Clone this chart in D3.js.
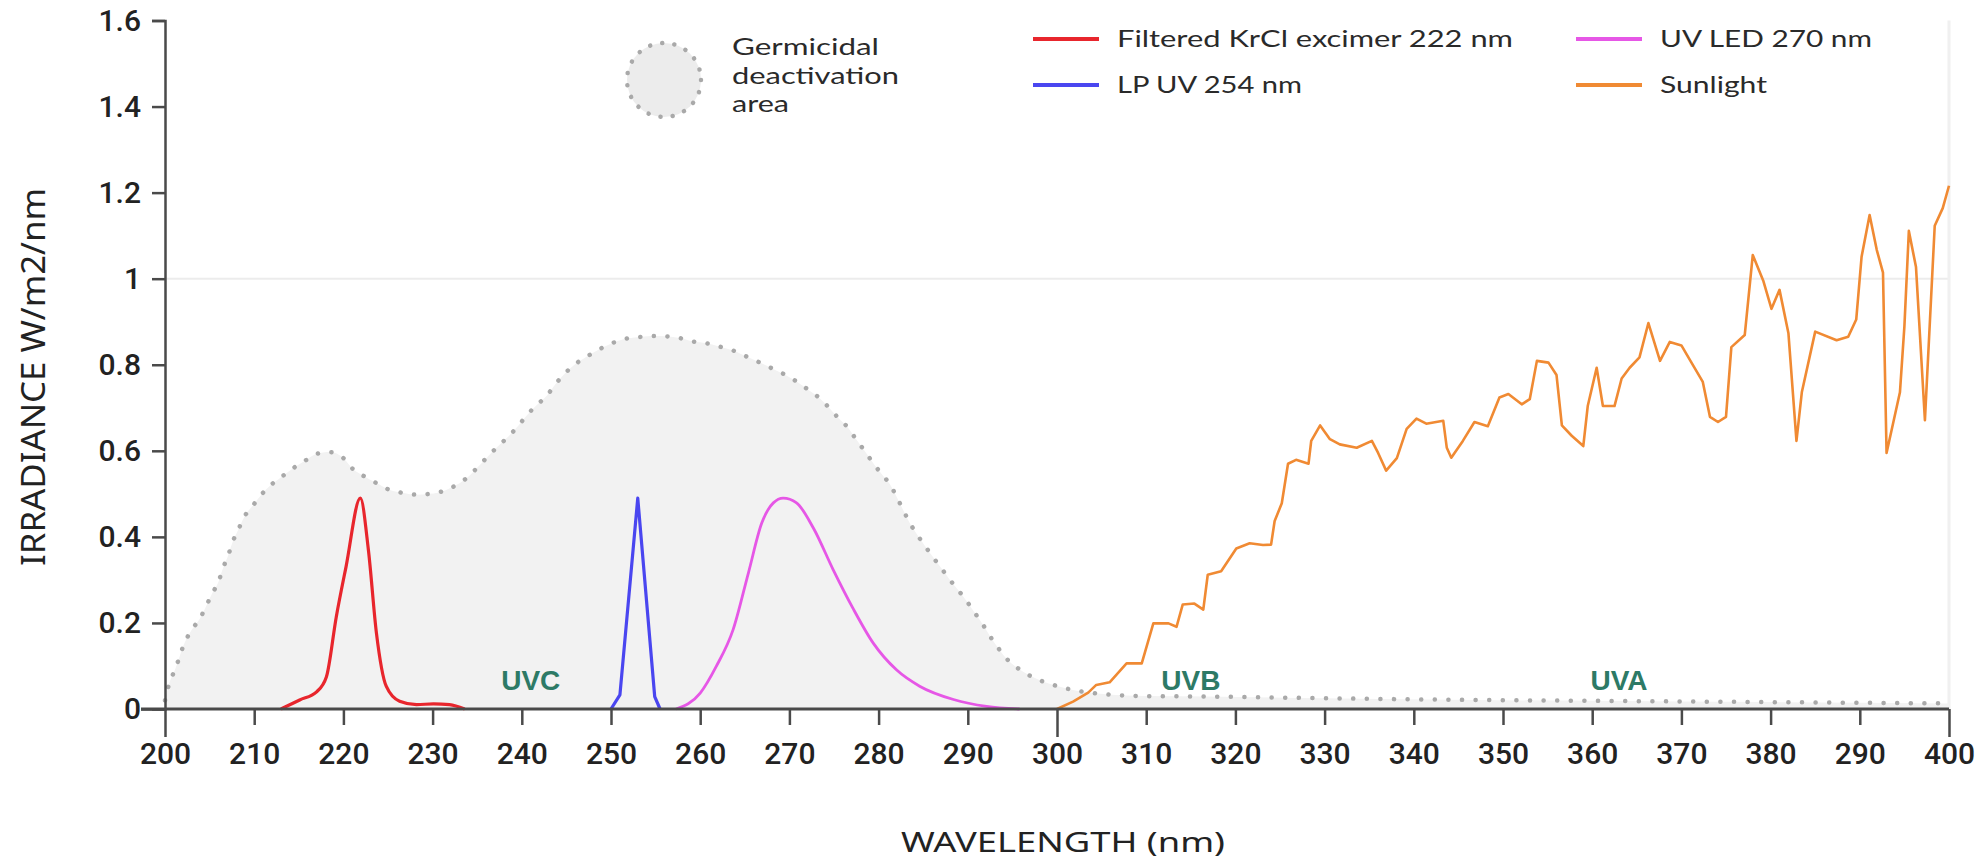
<!DOCTYPE html>
<html><head><meta charset="utf-8">
<script src="https://cdn.jsdelivr.net/npm/d3@7/dist/d3.min.js"></script>
<style>body{margin:0;background:#fff}svg{display:block}</style>
</head><body>
<svg id="chart" width="1988" height="861"></svg>
<script>
// ---------- data ----------
const xTickValues = [200,210,220,230,240,250,260,270,280,290,300,310,320,330,340,350,360,370,380,390,400];
const xTickLabels = ["200","210","220","230","240","250","260","270","280","290","300","310","320","330","340","350","360","370","380","290","400"];
const yTickValues = [0,0.2,0.4,0.6,0.8,1,1.2,1.4,1.6];
const yTickLabels = ["0","0.2","0.4","0.6","0.8","1","1.2","1.4","1.6"];

const germWl  = [200,200.5,201.1,202.2,203,203.9,204.6,205.2,206,206.5,207.1,207.6,208.2,208.9,209.9,210.8,211.9,213.1,214.4,215.7,217,218.5,220,221.1,222.4,223.7,225.2,226.7,228.2,229.7,231.4,232.7,234,235.1,236.2,237.3,238.5,239.6,240.5,241.6,242.8,243.7,244.8,245.9,247.3,248.6,250,251.5,253,254.5,256.2,257.7,259.2,260.7,262.2,263.7,265.2,266.7,268,269.5,270.8,272.1,273.4,274.5,275.5,276.6,277.5,278.5,279.4,280.3,281.3,282,282.7,283.4,284.2,285.2,286.1,287,288,288.9,289.9,290.8,291.7,292.5,293.4,294.3,295.6,297,298.4,299.9,301.4,303,305.5,310,316.8,330,346.6,360,380,400];
const germVal = [0.02,0.061,0.09,0.154,0.184,0.21,0.238,0.265,0.296,0.327,0.358,0.389,0.416,0.447,0.474,0.498,0.521,0.54,0.56,0.577,0.593,0.597,0.583,0.557,0.54,0.525,0.509,0.502,0.498,0.5,0.508,0.521,0.54,0.563,0.587,0.61,0.633,0.658,0.681,0.705,0.728,0.753,0.779,0.8,0.819,0.835,0.849,0.86,0.864,0.867,0.866,0.862,0.854,0.85,0.842,0.833,0.819,0.805,0.792,0.777,0.761,0.742,0.722,0.699,0.676,0.653,0.626,0.598,0.571,0.547,0.521,0.494,0.465,0.436,0.409,0.379,0.353,0.328,0.3,0.277,0.25,0.223,0.196,0.169,0.142,0.118,0.095,0.077,0.064,0.054,0.046,0.04,0.034,0.03,0.029,0.025,0.021,0.019,0.016,0.013];

const krclWl  = [213,215.1,217,218.1,219.2,220.3,221.9,222.8,223.7,224.8,226.3,228.2,230.1,231.9,233.6];
const krclVal = [0,0.021,0.04,0.075,0.214,0.331,0.49,0.37,0.177,0.053,0.018,0.01,0.012,0.01,0];

const lpWl  = [250,251,253,254.9,255.5];
const lpVal = [0,0.033,0.49,0.029,0];

const ledWl  = [257.3,260,261.8,263.7,265.4,266.9,268.2,269.3,270.8,272.7,274.9,277.1,279.4,282,284.6,288.4,292.1,295.8];
const ledVal = [0,0.037,0.099,0.185,0.316,0.432,0.479,0.49,0.479,0.42,0.324,0.235,0.153,0.091,0.053,0.022,0.006,0];

const sunWl  = [300,301.8,303.5,304.4,305.9,307.8,309.5,310.8,312.5,313.4,314.1,315.4,316.4,316.9,318.4,320.1,321.6,323.1,324,324.4,325.2,325.9,326.8,328.2,328.5,329.5,330.6,331.7,333.6,335.3,336,336.9,338.1,339.2,340.3,341.4,343.3,343.7,344.2,345.5,346.8,348.3,349.6,350.6,352.1,353,353.8,355.1,356,356.6,357.7,359,359.5,360.5,361.2,362.5,363.3,364.2,365.3,366.3,367.6,368.7,370,370.9,372.4,373.2,374.1,375,375.6,377.1,378,379.2,380.1,381,382,382.9,383.5,385,387.4,388.7,389.6,390.2,391.1,391.9,392.6,393,394.5,395,395.5,396.3,397.3,398.4,399.3,400];
const sunVal = [0,0.017,0.038,0.056,0.062,0.106,0.106,0.199,0.199,0.191,0.243,0.245,0.231,0.312,0.32,0.373,0.385,0.381,0.382,0.437,0.478,0.57,0.579,0.57,0.623,0.659,0.627,0.615,0.607,0.623,0.595,0.554,0.583,0.651,0.675,0.663,0.67,0.607,0.584,0.623,0.667,0.657,0.724,0.732,0.708,0.72,0.809,0.805,0.776,0.659,0.635,0.611,0.704,0.793,0.704,0.704,0.768,0.793,0.817,0.897,0.809,0.853,0.845,0.813,0.76,0.679,0.667,0.679,0.841,0.869,1.055,0.994,0.93,0.974,0.873,0.623,0.736,0.877,0.857,0.865,0.905,1.051,1.148,1.067,1.014,0.595,0.736,0.889,1.111,1.027,0.671,1.123,1.164,1.216];

const bandNames = ["UVC","UVB","UVA"];
const bandCenters = [241,315,363];

const legendNames  = ["Filtered KrCl excimer 222 nm","LP UV 254 nm","UV LED 270 nm","Sunlight"];
const legendColors = ["#e8262d","#4a46f0","#e657e6","#f08a33"];
const germLegendLines = ["Germicidal","deactivation","area"];

// ---------- chart ----------
const svg = d3.select("#chart");
svg.append("rect").attr("width",1988).attr("height",861).attr("fill","#fff");

const x = d3.scaleLinear().domain([200,400]).range([165,1949]);
const y = d3.scaleLinear().domain([0,1.6]).range([709,20.5]);

const zip = (a,b) => a.map((v,i)=>[v,b[i]]);
const TXT = "'Noto Sans', 'Open Sans', sans-serif";
const LEG = "Lato, 'Noto Sans', sans-serif";

// grid line at 1 and right frame
svg.append("line").attr("x1",x(200)).attr("x2",x(400)).attr("y1",y(1)).attr("y2",y(1))
  .attr("stroke","#ececec").attr("stroke-width",2);
svg.append("line").attr("x1",x(400)).attr("x2",x(400)).attr("y1",y(1.6)).attr("y2",y(0))
  .attr("stroke","#f0f0f0").attr("stroke-width",3);

// germicidal area
const germ = zip(germWl, germVal);
const area = d3.area().x(d=>x(d[0])).y0(y(0)).y1(d=>y(d[1])).curve(d3.curveMonotoneX);
const gline = d3.line().x(d=>x(d[0])).y(d=>y(d[1])).curve(d3.curveMonotoneX);
svg.append("path").attr("d",area(germ)).attr("fill","#f2f2f2");
svg.append("path").attr("d",gline(germ)).attr("fill","none")
  .attr("stroke","#a9a9a9").attr("stroke-width",4.5).attr("stroke-linecap","round")
  .attr("stroke-dasharray","0.1 13.5");

// band labels
svg.selectAll("text.band").data(bandNames).join("text").attr("class","band")
  .attr("x",(d,i)=>x(bandCenters[i])).attr("y",690)
  .attr("text-anchor","middle").attr("fill","#2d7a66")
  .attr("font-family","'Liberation Sans', Arial, sans-serif").attr("font-weight","bold")
  .attr("font-size",28).text(d=>d);

// series
const line = d3.line().x(d=>x(d[0])).y(d=>y(d[1]));
svg.append("path").attr("d",line.curve(d3.curveMonotoneX)(zip(krclWl,krclVal)))
  .attr("fill","none").attr("stroke",legendColors[0]).attr("stroke-width",3.2).attr("stroke-linejoin","round");
svg.append("path").attr("d",line.curve(d3.curveLinear)(zip(lpWl,lpVal)))
  .attr("fill","none").attr("stroke",legendColors[1]).attr("stroke-width",3.2).attr("stroke-linejoin","round");
svg.append("path").attr("d",line.curve(d3.curveMonotoneX)(zip(ledWl,ledVal)))
  .attr("fill","none").attr("stroke",legendColors[2]).attr("stroke-width",2.8);
svg.append("path").attr("d",line.curve(d3.curveLinear)(zip(sunWl,sunVal)))
  .attr("fill","none").attr("stroke",legendColors[3]).attr("stroke-width",2.6).attr("stroke-linejoin","round");

// axes
const AX = "#4a4a4a";
const xAxis = d3.axisBottom(x).tickValues(xTickValues).tickFormat((d,i)=>xTickLabels[i])
  .tickSizeOuter(0).tickSize(16).tickPadding(14);
const gx = svg.append("g").attr("transform",`translate(0,${y(0)})`).call(xAxis);
gx.select(".domain").attr("stroke",AX).attr("stroke-width",3);
gx.selectAll(".tick line").attr("stroke",AX).attr("stroke-width",2.5)
  .attr("y2",d=> (d===200||d===300||d===400)?28:16);
gx.selectAll(".tick text").attr("y",34).attr("dy","0.71em")
  .attr("font-family","Roboto, sans-serif").attr("font-weight",500).attr("font-size",30).attr("fill","#222");

const yAxis = d3.axisLeft(y).tickValues(yTickValues).tickFormat((d,i)=>yTickLabels[i])
  .tickSizeOuter(0).tickSize(13).tickPadding(19);
const gy = svg.append("g").attr("transform",`translate(${x(200)},0)`).call(yAxis);
gy.select(".domain").attr("stroke",AX).attr("stroke-width",2.5);
gy.selectAll(".tick line").attr("stroke",AX).attr("stroke-width",2.5)
  .attr("x2",d=> d===0?-24:-13);
gy.selectAll(".tick text").attr("x",-24)
  .attr("font-family","Roboto, sans-serif").attr("font-weight",500).attr("font-size",30).attr("fill","#222");
gx.select(".domain").attr("d",`M${x(200)-24},0H${x(400)}`);

// axis titles
svg.append("text").attr("transform",`translate(33,377) rotate(-90)`)
  .attr("text-anchor","middle").attr("dy","0.36em")
  .attr("font-family",TXT).attr("font-size",32).attr("fill","#222")
  .attr("textLength",378).attr("lengthAdjust","spacingAndGlyphs")
  .text("IRRADIANCE W/m2/nm");
svg.append("text").attr("x",1063).attr("y",852).attr("text-anchor","middle")
  .attr("font-family",TXT).attr("font-size",28).attr("fill","#222")
  .attr("textLength",324).attr("lengthAdjust","spacingAndGlyphs")
  .text("WAVELENGTH (nm)");

// legend: germicidal
svg.append("circle").attr("cx",664).attr("cy",80).attr("r",37)
  .attr("fill","#ececec").attr("stroke","#a9a9a9").attr("stroke-width",4.5)
  .attr("stroke-linecap","round").attr("stroke-dasharray","0.1 12.2");
const germWidths = [147,167,57];
svg.selectAll("text.gl").data(germLegendLines).join("text").attr("class","gl")
  .attr("x",732).attr("y",(d,i)=>55+i*28.5)
  .attr("font-family",LEG).attr("font-size",23).attr("fill","#2a2a2a")
  .attr("textLength",(d,i)=>germWidths[i]).attr("lengthAdjust","spacingAndGlyphs")
  .text(d=>d);

// legend: series
const legX = [1033,1033,1576,1576];
const legY = [39,85,39,85];
const legW = [396,185,212,107];
legendNames.forEach((name,i)=>{
  svg.append("line").attr("x1",legX[i]).attr("x2",legX[i]+66).attr("y1",legY[i]).attr("y2",legY[i])
    .attr("stroke",legendColors[i]).attr("stroke-width",4);
  svg.append("text").attr("x",legX[i]+84).attr("y",legY[i]).attr("dy","0.35em")
    .attr("font-family",LEG).attr("font-size",24).attr("fill","#2a2a2a")
    .attr("textLength",legW[i]).attr("lengthAdjust","spacingAndGlyphs")
    .text(name);
});
</script>
</body></html>
